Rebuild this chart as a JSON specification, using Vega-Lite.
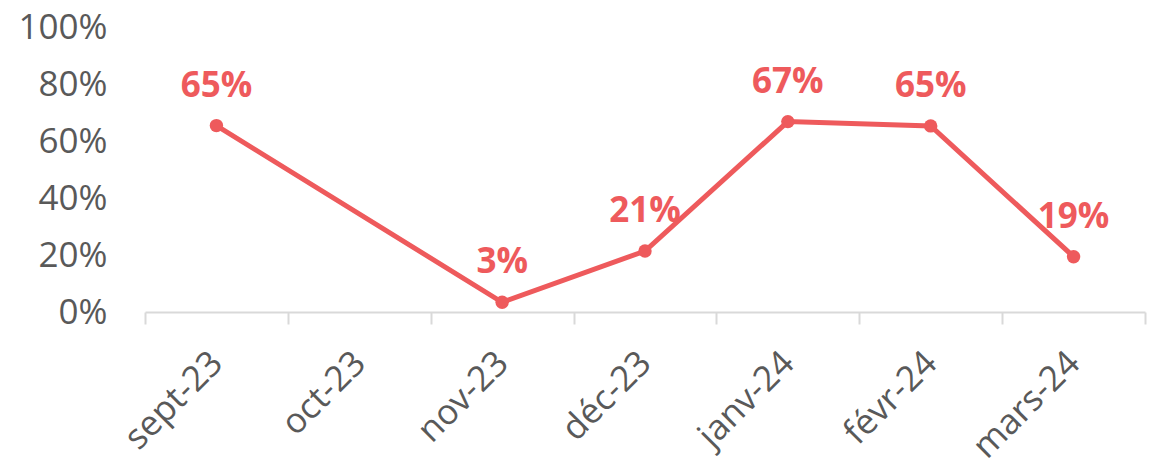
{
  "$schema": "https://vega.github.io/schema/vega-lite/v6.json",
  "width": 1000,
  "height": 285,
  "autosize": {"type": "none"},
  "padding": {"left": 145, "top": 27, "right": 10, "bottom": 148},
  "config": {"view": {"stroke": null}, "font": "Open Sans"},
  "data": {
    "values": [
      {"month": "sept-23", "i": 1, "value": 0.654},
      {"month": "nov-23", "i": 3, "value": 0.034},
      {"month": "déc-23", "i": 4, "value": 0.214},
      {"month": "janv-24", "i": 5, "value": 0.668},
      {"month": "févr-24", "i": 6, "value": 0.653},
      {"month": "mars-24", "i": 7, "value": 0.194}
    ]
  },
  "encoding": {
    "x": {
      "field": "month",
      "type": "ordinal",
      "scale": {
        "type": "band",
        "domain": ["sept-23", "oct-23", "nov-23", "déc-23", "janv-24", "févr-24", "mars-24"],
        "paddingInner": 0,
        "paddingOuter": 0
      },
      "axis": {
        "title": null,
        "tickBand": "extent",
        "labelAngle": -45,
        "labelAlign": "right",
        "labelBaseline": "middle",
        "labelFontSize": 35,
        "labelColor": "#595959",
        "labelPadding": 33,
        "domainColor": "#d9d9d9",
        "domainWidth": 2,
        "tickColor": "#d9d9d9",
        "tickWidth": 2,
        "tickSize": 12
      }
    },
    "y": {
      "field": "value",
      "type": "quantitative",
      "scale": {"domain": [0, 1]},
      "axis": {
        "title": null,
        "values": [0, 0.2, 0.4, 0.6, 0.8, 1],
        "format": ".0%",
        "domain": false,
        "ticks": false,
        "grid": false,
        "labelPadding": 38,
        "labelFontSize": 35,
        "labelColor": "#595959"
      }
    }
  },
  "layer": [
    {
      "mark": {"type": "line", "color": "#EE5A5C", "strokeWidth": 5},
      "encoding": {"order": {"field": "i", "type": "quantitative"}}
    },
    {
      "mark": {"type": "point", "filled": true, "color": "#EE5A5C", "size": 180, "opacity": 1}
    },
    {
      "mark": {"type": "text", "color": "#EE5A5C", "fontWeight": "bold", "fontSize": 35, "dy": -40, "baseline": "middle"},
      "encoding": {"text": {"field": "value", "type": "quantitative", "format": ".0%"}}
    }
  ]
}
